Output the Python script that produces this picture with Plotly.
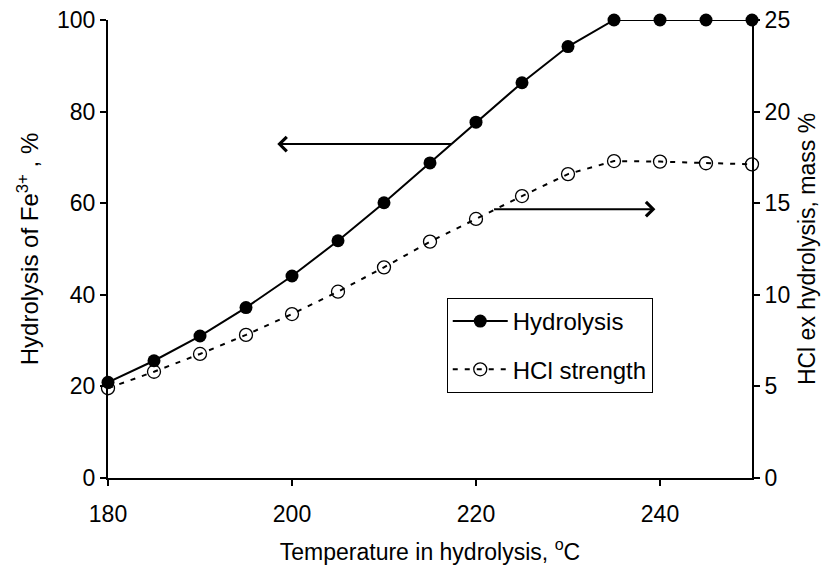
# HYDROLYSIS OF Fe3+ AND HCl STRENGTH VS TEMPERATURE
# ----------------------------------------------------------------------------------------------------
import plotly.graph_objects as go

# DATA
# ----------------------------------------------------------------------------------------------------
temperature = [180, 185, 190, 195, 200, 205, 210, 215, 220, 225, 230, 235, 240, 245, 250]
hydrolysis = [20.9, 25.6, 31.0, 37.2, 44.1, 51.8, 60.1, 68.8, 77.7, 86.3, 94.2, 100, 100, 100, 100]
hcl_strength = [4.9, 5.8, 6.77, 7.81, 8.95, 10.17, 11.5, 12.9, 14.14, 15.39, 16.59, 17.3, 17.27, 17.18, 17.12]

x_ticks = [180, 200, 220, 240]

# arrows pointing to the axis each curve belongs to (tail x, tip x, y on left axis)
arrow_left = (217.5, 198.4, 72.9)
arrow_right = (221.8, 239.5, 58.7)

FONT = 'Liberation Sans, Arial, sans-serif'

# FIGURE
# ----------------------------------------------------------------------------------------------------
fig = go.Figure()

fig.add_trace(go.Scatter(
    x=temperature, y=hydrolysis, name='Hydrolysis', mode='lines+markers',
    line=dict(color='black', width=2),
    marker=dict(symbol='circle', size=13, color='black'),
    legendgroup='a', cliponaxis=False
))

fig.add_trace(go.Scatter(
    x=temperature, y=hcl_strength, name='HCl strength', mode='lines+markers',
    line=dict(color='black', width=2, dash='5px,7px'),
    marker=dict(symbol='circle-open', size=13, color='black', line=dict(width=1.3)),
    yaxis='y2', legendgroup='b', cliponaxis=False
))

for tail, tip, yv in (arrow_left, arrow_right):
    fig.add_annotation(
        x=tip, y=yv, ax=tail, ay=yv, xref='x', yref='y', axref='x', ayref='y',
        text='', showarrow=True, arrowhead=4, arrowsize=1.4, arrowwidth=2, arrowcolor='black'
    )

axis_style = dict(
    showgrid=False, zeroline=False, showline=True, linecolor='black', linewidth=2,
    ticks='outside', ticklen=6, tickwidth=2, tickcolor='black',
    tickfont=dict(family=FONT, size=23, color='black'),
    ticklabeloverflow='allow', automargin=False,
)

fig.update_layout(
    width=831, height=569,
    margin=dict(l=100, r=87, t=12, b=99),
    paper_bgcolor='white', plot_bgcolor='white',
    font=dict(family=FONT, size=23, color='black'),
    showlegend=True,
    legend=dict(
        x=0.526, y=0.393, xanchor='left', yanchor='top',
        bgcolor='white', bordercolor='black', borderwidth=1,
        font=dict(family=FONT, size=24, color='black'),
        traceorder='grouped', tracegroupgap=14, itemwidth=55,
    ),
    xaxis=dict(
        range=[180, 250], tickvals=x_ticks, ticklabelstandoff=8,
        title=dict(text='Temperature in hydrolysis, <sup>o</sup>C', font=dict(size=23), standoff=18),
        **axis_style
    ),
    yaxis=dict(
        range=[0, 100], dtick=20,
        title=dict(text='Hydrolysis of Fe<sup>3+</sup> , %', font=dict(size=24), standoff=12),
        **axis_style
    ),
    yaxis2=dict(
        range=[0, 25], dtick=5, overlaying='y', side='right',
        title=dict(text='HCl ex hydrolysis, mass %', font=dict(size=23), standoff=10),
        **axis_style
    ),
)

fig.write_html('out.html')
